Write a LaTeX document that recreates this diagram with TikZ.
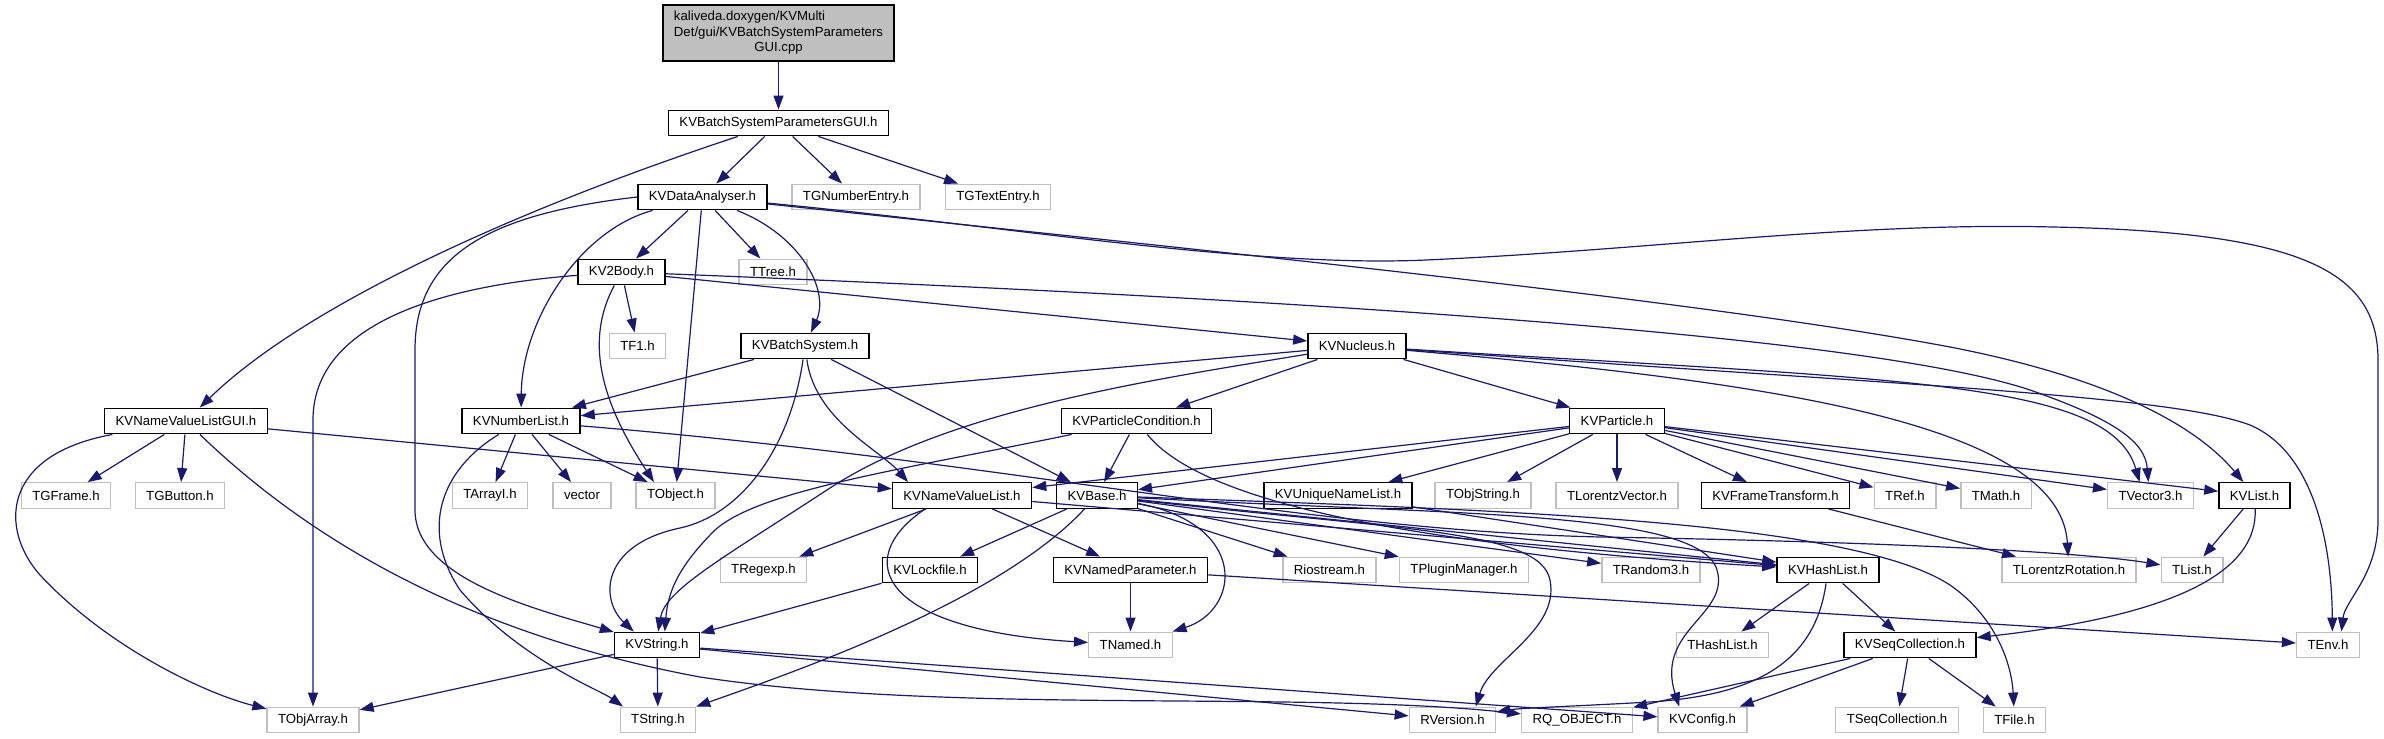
\documentclass[tikz,border=0pt]{standalone}
\usepackage{fontspec}
\setmainfont{Liberation Sans}
\usetikzlibrary{arrows.meta}
\definecolor{edgeblue}{HTML}{191970}
\definecolor{extgray}{HTML}{BFBFBF}
\begin{document}
\begin{tikzpicture}[x=0.5pt,y=-0.5pt,
  hdr/.style={draw=black,line width=0.7pt,fill=white,inner xsep=5.5pt,inner ysep=1pt,minimum height=12.75pt,font=\fontsize{6.6}{7.85}\selectfont},
  ext/.style={hdr,draw=extgray},
  inc/.style={draw=edgeblue,line width=0.6pt,-{Triangle[length=7pt,width=5pt]}}]
\path[use as bounding box,fill=white] (0,0) rectangle (2384,739);
\node[hdr,fill=extgray,minimum height=28pt] (cpp) at (778.5,33) {\begin{tabular}{@{}l@{}}kaliveda.doxygen/KVMulti\\Det/gui/KVBatchSystemParameters\\\multicolumn{1}{@{}c@{}}{GUI.cpp}\end{tabular}};
\node[hdr] (bspgui) at (778.5,123) {KVBatchSystemParametersGUI.h};
\node[hdr] (danalyser) at (702.5,197) {KVDataAnalyser.h};
\node[ext] (tgnumentry) at (856,197) {TGNumberEntry.h};
\node[ext] (tgtextentry) at (998,197) {TGTextEntry.h};
\node[hdr] (twobody) at (621.5,272) {KV2Body.h};
\node[ext] (ttree) at (773,272) {TTree.h};
\node[ext] (tfone) at (637.5,346) {TF1.h};
\node[hdr] (batchsys) at (805,346) {KVBatchSystem.h};
\node[hdr] (nucleus) at (1357,346) {KVNucleus.h};
\node[hdr] (nvlgui) at (186,421) {KVNameValueListGUI.h};
\node[hdr] (numlist) at (521,421) {KVNumberList.h};
\node[hdr] (partcond) at (1136.5,421) {KVParticleCondition.h};
\node[hdr] (particle) at (1617,421) {KVParticle.h};
\node[ext] (tgframe) at (66,495.5) {TGFrame.h};
\node[ext] (tgbutton) at (180,495.5) {TGButton.h};
\node[ext] (tarrayi) at (490,495.5) {TArrayI.h};
\node[ext] (vector) at (582,495.5) {vector};
\node[ext] (tobject) at (675.5,495.5) {TObject.h};
\node[hdr] (nvlist) at (962,495.5) {KVNameValueList.h};
\node[hdr] (kvbase) at (1097,495.5) {KVBase.h};
\node[hdr] (uniqlist) at (1338,495.5) {KVUniqueNameList.h};
\node[ext] (tobjstring) at (1483,495.5) {TObjString.h};
\node[ext] (tlorvec) at (1617,495.5) {TLorentzVector.h};
\node[hdr] (frametrans) at (1775.5,495.5) {KVFrameTransform.h};
\node[ext] (tref) at (1905,495.5) {TRef.h};
\node[ext] (tmath) at (1996,495.5) {TMath.h};
\node[ext] (tvector) at (2150.5,495.5) {TVector3.h};
\node[hdr] (kvlist) at (2254.5,495.5) {KVList.h};
\node[ext] (tregexp) at (763.5,570) {TRegexp.h};
\node[hdr] (lockfile) at (930,570) {KVLockfile.h};
\node[hdr] (namedpar) at (1130.5,570) {KVNamedParameter.h};
\node[ext] (riostream) at (1329.5,570) {Riostream.h};
\node[ext] (tplugin) at (1464,570) {TPluginManager.h};
\node[ext] (trandom) at (1651,570) {TRandom3.h};
\node[hdr] (hashlist) at (1828,570) {KVHashList.h};
\node[ext] (tlorrot) at (2069,570) {TLorentzRotation.h};
\node[ext] (tlist) at (2192,570) {TList.h};
\node[hdr] (kvstring) at (657,645) {KVString.h};
\node[ext] (tnamed) at (1130.5,645) {TNamed.h};
\node[ext] (thashlist) at (1722.5,645) {THashList.h};
\node[hdr] (seqcoll) at (1910,645) {KVSeqCollection.h};
\node[ext] (tenv) at (2328,645) {TEnv.h};
\node[ext] (tobjarray) at (313,720) {TObjArray.h};
\node[ext] (tstring) at (658,720) {TString.h};
\node[ext] (rversion) at (1452.5,720) {RVersion.h};
\node[ext] (rqobject) at (1577,720) {RQ\_OBJECT.h};
\node[ext] (kvconfig) at (1702.5,720) {KVConfig.h};
\node[ext] (tseqcoll) at (1897,720) {TSeqCollection.h};
\node[ext] (tfile) at (2014.5,720) {TFile.h};
% top of the graph
\draw[inc] (cpp)--(bspgui);
\draw[inc] (bspgui)--(danalyser);\draw[inc] (bspgui)--(tgnumentry);\draw[inc] (bspgui)--(tgtextentry);
\draw[inc] (bspgui) .. controls (500,215) and (300,310) .. (nvlgui);
\draw[inc] (danalyser)--(twobody);\draw[inc] (danalyser)--(ttree);\draw[inc] (danalyser)--(tobject);
\draw[inc] (danalyser) .. controls (800,235) and (830,290) .. (batchsys);
\draw[inc] (danalyser) .. controls (580,230) and (522,320) .. (numlist);
\draw[inc] (danalyser.west) .. controls (480,215) and (415,260) .. (415,350) -- (415,510) .. controls (415,580) and (540,610) .. (kvstring);
\draw[inc] (danalyser) .. controls (1000,225) and (1250,268) .. (1426,260) .. controls (1650,250) and (1850,222) .. (2053,227) .. controls (2300,232) and (2378,270) .. (2378,360) -- (2378,520) .. controls (2378,575) and (2345,600) .. (tenv.45);
\draw[inc] (danalyser) .. controls (1200,250) and (1700,300) .. (1950,347) .. controls (2120,380) and (2200,430) .. (kvlist);
\draw[inc] (twobody)--(tfone);\draw[inc] (twobody)--(nucleus);
\draw[inc] (twobody) .. controls (450,285) and (313,320) .. (313,420) -- (tobjarray);
\draw[inc] (twobody) .. controls (585,340) and (600,400) .. (tobject.148);
\draw[inc] (twobody) .. controls (1200,295) and (1850,330) .. (2030,390) .. controls (2110,418) and (2145,440) .. (tvector.99);
\draw[inc] (batchsys)--(numlist);\draw[inc] (batchsys)--(kvbase);
\draw[inc] (batchsys) .. controls (790,450) and (740,515) .. (680,528) .. controls (600,545) and (600,600) .. (kvstring.150);
\draw[inc] (batchsys) .. controls (815,420) and (880,450) .. (nvlist.166);
\draw[inc] (nucleus)--(numlist);\draw[inc] (nucleus)--(partcond);\draw[inc] (nucleus)--(particle);
\draw[inc] (nucleus) .. controls (1150,380) and (950,410) .. (830,488) .. controls (720,560) and (665,590) .. (kvstring.85);
\draw[inc] (nucleus) .. controls (1900,380) and (2110,380) .. (tvector.129);
\draw[inc] (nucleus) .. controls (1900,385) and (2170,395) .. (2250,425) .. controls (2320,455) and (2332,560) .. (tenv.72);
\draw[inc] (nucleus) .. controls (1750,380) and (2060,420) .. (tlorrot);
% middle rows
\draw[inc] (nvlgui)--(tgframe);\draw[inc] (nvlgui)--(tgbutton);\draw[inc] (nvlgui)--(nvlist);
\draw[inc] (nvlgui) .. controls (0,455) and (0,530) .. (40,575) .. controls (110,650) and (210,695) .. (tobjarray);
\draw[inc] (nvlgui) .. controls (330,560) and (500,640) .. (700,677) .. controls (950,715) and (1300,690) .. (rqobject);
\draw[inc] (numlist)--(tarrayi);\draw[inc] (numlist)--(vector);\draw[inc] (numlist)--(tobject);
\draw[inc] (numlist) .. controls (440,470) and (420,530) .. (460,590) .. controls (520,660) and (600,690) .. (tstring.159);
\draw[inc] (numlist) .. controls (1000,460) and (1300,530) .. (1600,537) .. controls (1950,543) and (2100,555) .. (tlist);
\draw[inc] (partcond)--(kvbase);
\draw[inc] (partcond) .. controls (900,470) and (760,490) .. (715,530) .. controls (680,565) and (668,590) .. (kvstring.60);
\draw[inc] (partcond) .. controls (1200,500) and (1400,545) .. (hashlist);
\draw[inc] (particle)--(nvlist);\draw[inc] (particle)--(kvbase);\draw[inc] (particle)--(uniqlist);\draw[inc] (particle)--(tobjstring);
\draw[inc] (particle)--(tlorvec);\draw[inc] (particle)--(frametrans);\draw[inc] (particle)--(tref);\draw[inc] (particle)--(tmath);
\draw[inc] (particle)--(tvector);\draw[inc] (particle)--(kvlist);
\draw[inc] (nvlist)--(tregexp);\draw[inc] (nvlist)--(namedpar);\draw[inc] (nvlist)--(hashlist);
\draw[inc] (nvlist.200) .. controls (850,560) and (880,630) .. (tnamed);
\draw[inc] (kvbase)--(lockfile);\draw[inc] (kvbase)--(riostream);\draw[inc] (kvbase)--(tplugin);\draw[inc] (kvbase)--(trandom);\draw[inc] (kvbase)--(hashlist);
\draw[inc] (kvbase) .. controls (1000,600) and (800,670) .. (tstring);
\draw[inc] (kvbase) .. controls (1250,525) and (1240,610) .. (tnamed);
\draw[inc] (kvbase) .. controls (1400,530) and (1540,530) .. (1550,580) .. controls (1560,630) and (1490,660) .. (rversion.30);
\draw[inc] (kvbase) .. controls (1450,515) and (1700,510) .. (1717,570) .. controls (1730,615) and (1655,630) .. (kvconfig.150);
\draw[inc] (kvbase) .. controls (1500,510) and (1850,520) .. (1950,585) .. controls (2000,620) and (2012,670) .. (tfile);
\draw[inc] (uniqlist)--(hashlist);\draw[inc] (frametrans)--(tlorrot);\draw[inc] (kvlist)--(tlist);
\draw[inc] (kvlist) .. controls (2258,570) and (2180,615) .. (seqcoll);
% lower rows
\draw[inc] (lockfile)--(kvstring);\draw[inc] (namedpar)--(tnamed);\draw[inc] (namedpar)--(tenv);
\draw[inc] (hashlist)--(thashlist);\draw[inc] (hashlist)--(seqcoll);
\draw[inc] (hashlist) .. controls (1815,660) and (1760,695) .. (1650,702) .. controls (1560,707) and (1520,708) .. (rversion);
\draw[inc] (kvstring)--(tobjarray);\draw[inc] (kvstring)--(tstring);\draw[inc] (kvstring)--(rversion);\draw[inc] (kvstring)--(kvconfig);
\draw[inc] (seqcoll)--(rqobject);\draw[inc] (seqcoll)--(kvconfig);\draw[inc] (seqcoll)--(tseqcoll);\draw[inc] (seqcoll)--(tfile);
\end{tikzpicture}
\end{document}
